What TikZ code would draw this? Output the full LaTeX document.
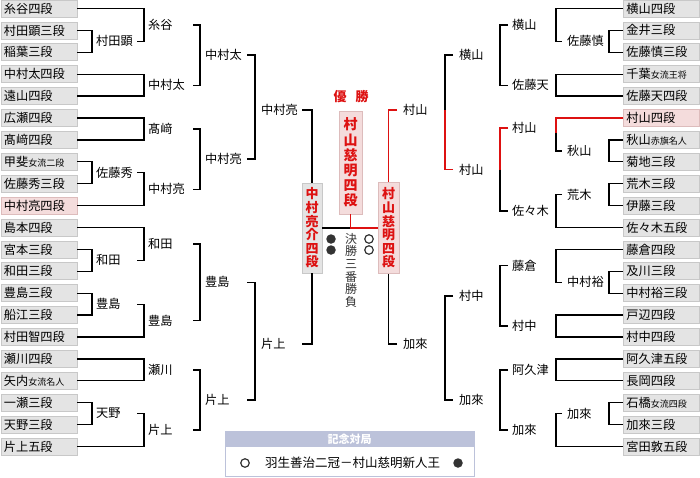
\documentclass[tikz,border=0pt]{standalone}
\usepackage{fontspec}
\setmainfont{Noto Sans CJK JP}
\definecolor{boxfill}{HTML}{E4E4E4}
\definecolor{boxline}{HTML}{C8C8C8}
\definecolor{pinkfill}{HTML}{F4DCDC}
\definecolor{pinkline}{HTML}{DDBCBC}
\definecolor{lred}{HTML}{DD1111}
\definecolor{headc}{HTML}{BCC2DA}
\definecolor{dotc}{HTML}{333333}
\newcommand{\smt}[1]{{\fontsize{9}{9}\selectfont #1}}
\tikzset{
  gb/.style={anchor=west, draw=boxline, fill=boxfill, text width=70pt, inner xsep=3pt, inner ysep=0pt,
    minimum height=17pt, align=left, font=\fontsize{12.2}{12.2}\selectfont, line width=0.8pt},
  pb/.style={gb, draw=pinkline, fill=pinkfill},
  lab/.style={anchor=west, inner sep=0pt, font=\fontsize{12.2}{12.2}\selectfont},
  ln/.style={line width=1.3pt, draw=black},
  rl/.style={line width=1.3pt, draw=lred},
  fin/.style={draw=boxline, fill=boxfill, line width=0.8pt, inner sep=0pt, align=center, text=lred,
    font=\bfseries\fontsize{13}{13.6}\selectfont},
  finp/.style={fin, draw=pinkline, fill=pinkfill},
  wdot/.style={circle, draw=dotc, line width=1.2pt, minimum size=8.5pt, inner sep=0pt},
  bdot/.style={circle, fill=dotc, minimum size=9.5pt, inner sep=0pt},
}
\begin{document}
\begin{tikzpicture}[x=1pt,y=-1pt]
\useasboundingbox (0,0) rectangle (700,477);
% ---------- left boxes ----------
\node[gb] (L1) at (0.5,8.5) {糸谷四段};
\node[gb] (L2) at (0.5,30.4) {村田顕三段};
\node[gb] (L3) at (0.5,52.3) {稲葉三段};
\node[gb] (L4) at (0.5,74.2) {中村太四段};
\node[gb] (L5) at (0.5,96.1) {遠山四段};
\node[gb] (L6) at (0.5,118.0) {広瀬四段};
\node[gb] (L7) at (0.5,139.9) {髙﨑四段};
\node[gb] (L8) at (0.5,161.8) {甲斐\smt{女流二段}};
\node[gb] (L9) at (0.5,183.7) {佐藤秀三段};
\node[pb] (L10) at (0.5,205.6) {中村亮四段};
\node[gb] (L11) at (0.5,227.5) {島本四段};
\node[gb] (L12) at (0.5,249.4) {宮本三段};
\node[gb] (L13) at (0.5,271.3) {和田三段};
\node[gb] (L14) at (0.5,293.2) {豊島三段};
\node[gb] (L15) at (0.5,315.1) {船江三段};
\node[gb] (L16) at (0.5,337.0) {村田智四段};
\node[gb] (L17) at (0.5,358.9) {瀬川四段};
\node[gb] (L18) at (0.5,380.8) {矢内\smt{女流名人}};
\node[gb] (L19) at (0.5,402.7) {一瀬三段};
\node[gb] (L20) at (0.5,424.6) {天野三段};
\node[gb] (L21) at (0.5,446.5) {片上五段};
% ---------- right boxes ----------
\node[gb] (R1) at (623,8.5) {横山四段};
\node[gb] (R2) at (623,30.4) {金井三段};
\node[gb] (R3) at (623,52.3) {佐藤慎三段};
\node[gb] (R4) at (623,74.2) {千葉\smt{女流王将}};
\node[gb] (R5) at (623,96.1) {佐藤天四段};
\node[pb] (R6) at (623,118.0) {村山四段};
\node[gb] (R7) at (623,139.9) {秋山\smt{赤旗名人}};
\node[gb] (R8) at (623,161.8) {菊地三段};
\node[gb] (R9) at (623,183.7) {荒木三段};
\node[gb] (R10) at (623,205.6) {伊藤三段};
\node[gb] (R11) at (623,227.5) {佐々木五段};
\node[gb] (R12) at (623,249.4) {藤倉四段};
\node[gb] (R13) at (623,271.3) {及川三段};
\node[gb] (R14) at (623,293.2) {中村裕三段};
\node[gb] (R15) at (623,315.1) {戸辺四段};
\node[gb] (R16) at (623,337.0) {村中四段};
\node[gb] (R17) at (623,358.9) {阿久津五段};
\node[gb] (R18) at (623,380.8) {長岡四段};
\node[gb] (R19) at (623,402.7) {石橋\smt{女流四段}};
\node[gb] (R20) at (623,424.6) {加來三段};
\node[gb] (R21) at (623,446.5) {宮田敦五段};
% ---------- left labels ----------
\node[lab] (a1) at (96,41.35) {村田顕};
\node[lab] (a2) at (96,172.75) {佐藤秀};
\node[lab] (a3) at (96,260.35) {和田};
\node[lab] (a4) at (96,304.15) {豊島};
\node[lab] (a5) at (96,413.65) {天野};
\node[lab] (b1) at (148,24.9) {糸谷};
\node[lab] (b2) at (148,85.15) {中村太};
\node[lab] (b3) at (148,128.95) {髙﨑};
\node[lab] (b4) at (148,189.2) {中村亮};
\node[lab] (b5) at (148,243.9) {和田};
\node[lab] (b6) at (148,320.6) {豊島};
\node[lab] (b7) at (148,369.85) {瀬川};
\node[lab] (b8) at (148,430.1) {片上};
\node[lab] (c1) at (205,55) {中村太};
\node[lab] (c2) at (205,159.1) {中村亮};
\node[lab] (c3) at (205,282.25) {豊島};
\node[lab] (c4) at (205,400) {片上};
\node[lab] (d1) at (261,110) {中村亮};
\node[lab] (d2) at (261,344) {片上};
% ---------- right labels ----------
\node[lab] (e1) at (567,41.35) {佐藤慎};
\node[lab] (e2) at (567,150.85) {秋山};
\node[lab] (e3) at (567,194.65) {荒木};
\node[lab] (e4) at (567,282.25) {中村裕};
\node[lab] (e5) at (567,413.65) {加來};
\node[lab] (f1) at (512,24.9) {横山};
\node[lab] (f2) at (512,85.15) {佐藤天};
\node[lab] (f3) at (512,128) {村山};
\node[lab] (f4) at (512,211.1) {佐々木};
\node[lab] (f5) at (512,265.8) {藤倉};
\node[lab] (f6) at (512,326) {村中};
\node[lab] (f7) at (512,369.85) {阿久津};
\node[lab] (f8) at (512,430.1) {加來};
\node[lab] (g1) at (459,55) {横山};
\node[lab] (g2) at (459,169.5) {村山};
\node[lab] (g3) at (459,295.9) {村中};
\node[lab] (g4) at (459,400) {加來};
\node[lab] (h1) at (403,110) {村山};
\node[lab] (h2) at (403,344) {加來};
% ---------- final boxes ----------
\node[fin, minimum width=20pt, minimum height=90pt] (FL) at (312,228) {中\\村\\亮\\介\\四\\段};
\node[finp, minimum width=21pt, minimum height=91pt] (FR) at (388.5,228) {村\\山\\慈\\明\\四\\段};
\node[finp, minimum width=23pt, minimum height=103pt, font=\bfseries\fontsize{14}{15.2}\selectfont] (W) at (350.5,162.5) {村\\山\\慈\\明\\四\\段};
\node[inner sep=0pt, text=lred, font=\bfseries\fontsize{13}{13}\selectfont] (YS) at (351,97) {優\hspace{9pt}勝};
\node[anchor=north, inner sep=0pt, align=center, text=dotc, font=\fontsize{12}{12.6}\selectfont] (KS) at (351,233) {決\\勝\\三\\番\\勝\\負};
\node[bdot] (B1) at (331,239) {};
\node[bdot] (B2) at (331,250) {};
\node[wdot] (W1) at (369,239) {};
\node[wdot] (W2) at (369,250) {};
% ---------- left connectors ----------
\draw[ln] (L2.east) -| ([xshift=-4pt]a1.west) |- (L3.east);
\draw[ln] (L8.east) -| ([xshift=-4pt]a2.west) |- (L9.east);
\draw[ln] (L12.east) -| ([xshift=-4pt]a3.west) |- (L13.east);
\draw[ln] (L14.east) -| ([xshift=-4pt]a4.west) |- (L15.east);
\draw[ln] (L19.east) -| ([xshift=-4pt]a5.west) |- (L20.east);
\draw[ln] (L1.east) -| ([xshift=-4pt]b1.west) |- ([xshift=41pt]a1.west);
\draw[ln] (L4.east) -| ([xshift=-4pt]b2.west) |- (L5.east);
\draw[ln] (L6.east) -| ([xshift=-4pt]b3.west) |- (L7.east);
\draw[ln] ([xshift=41pt]a2.west) -| ([xshift=-4pt]b4.west) |- (L10.east);
\draw[ln] (L11.east) -| ([xshift=-4pt]b5.west) |- ([xshift=41pt]a3.west);
\draw[ln] ([xshift=41pt]a4.west) -| ([xshift=-4pt]b6.west) |- (L16.east);
\draw[ln] (L17.east) -| ([xshift=-4pt]b7.west) |- (L18.east);
\draw[ln] ([xshift=41pt]a5.west) -| ([xshift=-4pt]b8.west) |- (L21.east);
\draw[ln] ([xshift=45pt]b1.west) -| ([xshift=-5pt]c1.west) |- ([xshift=45pt]b2.west);
\draw[ln] ([xshift=45pt]b3.west) -| ([xshift=-5pt]c2.west) |- ([xshift=45pt]b4.west);
\draw[ln] ([xshift=45pt]b5.west) -| ([xshift=-5pt]c3.west) |- ([xshift=45pt]b6.west);
\draw[ln] ([xshift=45pt]b7.west) -| ([xshift=-5pt]c4.west) |- ([xshift=45pt]b8.west);
\draw[ln] ([xshift=42pt]c1.west) -| ([xshift=-6pt]d1.west) |- ([xshift=42pt]c2.west);
\draw[ln] ([xshift=42pt]c3.west) -| ([xshift=-6pt]d2.west) |- ([xshift=42pt]c4.west);
\draw[ln] ([xshift=41pt]d1.west) -| (FL.north);
\draw[ln] ([xshift=41pt]d2.west) -| (FL.south);
% ---------- right connectors ----------
\draw[ln] (R2.west) -| ([xshift=42pt]e1.west) |- (R3.west);
\draw[ln] (R7.west) -| ([xshift=42pt]e2.west) |- (R8.west);
\draw[ln] (R9.west) -| ([xshift=42pt]e3.west) |- (R10.west);
\draw[ln] (R13.west) -| ([xshift=42pt]e4.west) |- (R14.west);
\draw[ln] (R19.west) -| ([xshift=42pt]e5.west) |- (R20.west);
\draw[ln] (R1.west) -| ([xshift=44pt]f1.west) |- ([xshift=-5pt]e1.west);
\draw[ln] (R4.west) -| ([xshift=44pt]f2.west) |- (R5.west);
\coordinate (f3m) at (556,133);
\draw[rl] (R6.west) -| (f3m);
\draw[ln] (f3m) |- ([xshift=-5pt]e2.west);
\draw[ln] ([xshift=-5pt]e3.west) -| ([xshift=44pt]f4.west) |- (R11.west);
\draw[ln] (R12.west) -| ([xshift=44pt]f5.west) |- ([xshift=-5pt]e4.west);
\draw[ln] (R15.west) -| ([xshift=44pt]f6.west) |- (R16.west);
\draw[ln] (R17.west) -| ([xshift=44pt]f7.west) |- (R18.west);
\draw[ln] ([xshift=-5pt]e5.west) -| ([xshift=44pt]f8.west) |- (R21.west);
\draw[ln] ([xshift=-4pt]f1.west) -| ([xshift=41pt]g1.west) |- ([xshift=-4pt]f2.west);
\draw[rl] ([xshift=-4pt]f3.west) -| ([xshift=41pt]g2.west);
\draw[ln] ([xshift=41pt]g2.west) |- ([xshift=-4pt]f4.west);
\draw[ln] ([xshift=-4pt]f5.west) -| ([xshift=41pt]g3.west) |- ([xshift=-4pt]f6.west);
\draw[ln] ([xshift=-4pt]f7.west) -| ([xshift=41pt]g4.west) |- ([xshift=-4pt]f8.west);
\draw[ln] ([xshift=-6pt]g1.west) -| ([xshift=42pt]h1.west);
\draw[rl] ([xshift=-6pt]g2.west) -| ([xshift=42pt]h1.west);
\draw[ln] ([xshift=-6pt]g3.west) -| ([xshift=42pt]h2.west) |- ([xshift=-6pt]g4.west);
\draw[rl] ([xshift=-6pt]h1.west) -| (FR.north);
\draw[ln] ([xshift=-6pt]h2.west) -| (FR.south);
% ---------- final connectors ----------
\draw[ln] (FL.east) -- (W.south |- FL.east);
\draw[rl] (W.south) |- (FR.west);
% ---------- commemorative game ----------
\node[draw=headc, line width=0.8pt, fill=white, minimum width=249pt, minimum height=45pt, anchor=north west, inner sep=0pt] (MB) at (225,431) {};
\node[fill=headc, minimum width=249pt, minimum height=16pt, anchor=north west, inner sep=0pt, text=white,
  font=\bfseries\fontsize{11}{11}\selectfont] (HD) at (225,431) {記念対局};
\node[inner sep=0pt, font=\fontsize{12.5}{12.5}\selectfont] (VS) at (352.5,463) {羽生善治二冠－村山慈明新人王};
\node[wdot] (OW) at (245,463) {};
\node[bdot] (OB) at (458,463) {};
\end{tikzpicture}
\end{document}
